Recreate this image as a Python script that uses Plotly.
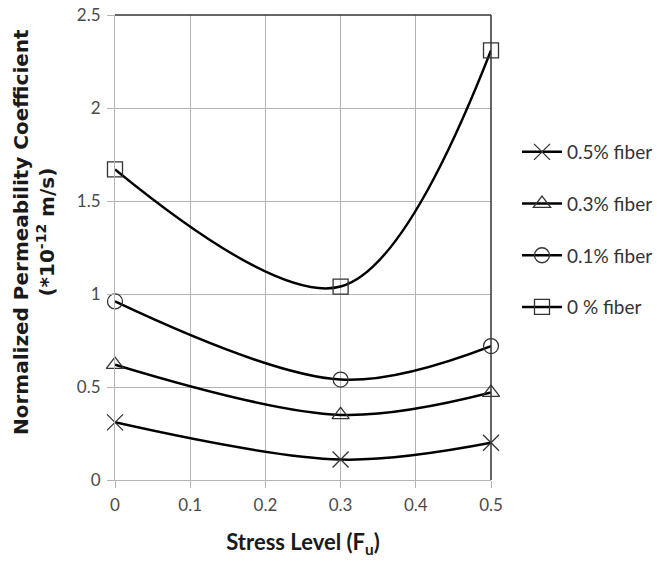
import plotly.graph_objects as go

stress = [0, 0.3, 0.5]
fiber_05 = [0.31, 0.11, 0.20]
fiber_03 = [0.62, 0.35, 0.47]
fiber_01 = [0.96, 0.54, 0.72]
fiber_00 = [1.67, 1.04, 2.31]

series = [
    ("0.5% fiber", fiber_05, "x-thin-open"),
    ("0.3% fiber", fiber_03, "triangle-up-open"),
    ("0.1% fiber", fiber_01, "circle-open"),
    ("0 % fiber", fiber_00, "square-open"),
]

x_ticks = [0, 0.1, 0.2, 0.3, 0.4, 0.5]
y_ticks = [0, 0.5, 1, 1.5, 2, 2.5]

fig = go.Figure()
for i, (name, vals, sym) in enumerate(series):
    fig.add_trace(go.Scatter(
        x=stress, y=vals, name=name, mode="lines+markers",
        line=dict(color="black", width=2.5, shape="spline", smoothing=1.0),
        marker=dict(symbol=sym, size=15 if sym != "x-thin-open" else 16,
                    color="#333333", line=dict(color="#333333", width=1.3)),
        legendgroup=f"g{i}", cliponaxis=False,
    ))

W, H = 657, 561
L, R, T, B = 115, 166, 15, 81
plot_w = W - L - R
plot_h = H - T - B

axis_font = dict(family="Lato, Open Sans, sans-serif", size=17, color="#4a4a4a")

fig.update_layout(
    width=W, height=H,
    margin=dict(l=L, r=R, t=T, b=B, autoexpand=False),
    paper_bgcolor="white", plot_bgcolor="white",
    showlegend=True,
    legend=dict(
        x=(517 - L) / plot_w, y=(H - B - 133) / plot_h,
        xanchor="left", yanchor="top",
        traceorder="grouped", tracegroupgap=24,
        itemwidth=40,
        font=dict(family="Lato, Open Sans, sans-serif", size=19, color="#333333"),
        bgcolor="rgba(0,0,0,0)",
    ),
    xaxis=dict(
        range=[0, 0.5], tickvals=x_ticks, ticktext=[str(v) for v in x_ticks],
        showgrid=True, gridcolor="#b4b4b4", gridwidth=1,
        showline=True, linecolor="#b4b4b4", linewidth=1,
        ticks="outside", ticklen=7, tickcolor="#b4b4b4",
        ticklabelstandoff=3,
        tickfont=axis_font, zeroline=False,
        title=dict(text="<b>Stress Level (F<sub>u</sub>)</b>",
                   font=dict(family="Lato, Open Sans, sans-serif", size=22, color="#1a1a1a"),
                   standoff=20),
    ),
    yaxis=dict(
        range=[0, 2.5], tickvals=y_ticks, ticktext=["0", "0.5", "1", "1.5", "2", "2.5"],
        showgrid=True, gridcolor="#b4b4b4", gridwidth=1,
        showline=True, linecolor="#b4b4b4", linewidth=1,
        ticks="outside", ticklen=7, tickcolor="#b4b4b4",
        ticklabelstandoff=3,
        tickfont=axis_font, zeroline=False,
    ),
    annotations=[dict(
        text="<b>Normalized Permeability Coefficient<br>(*10<sup>-12</sup> m/s)</b>",
        xref="paper", yref="paper",
        x=(34 - L) / plot_w, y=(H - B - 232) / plot_h, xanchor="center", yanchor="middle",
        textangle=-90, showarrow=False,
        font=dict(family="DejaVu Sans, Verdana, sans-serif", size=20, color="#1a1a1a"),
    )],
    shapes=[
        dict(type="line", xref="paper", yref="paper", x0=0, x1=1, y0=1, y1=1,
             line=dict(color="#333333", width=1.5)),
        dict(type="line", xref="paper", yref="paper", x0=1, x1=1, y0=0, y1=1,
             line=dict(color="#333333", width=1.5)),
    ],
)

fig.write_html("out.html")
